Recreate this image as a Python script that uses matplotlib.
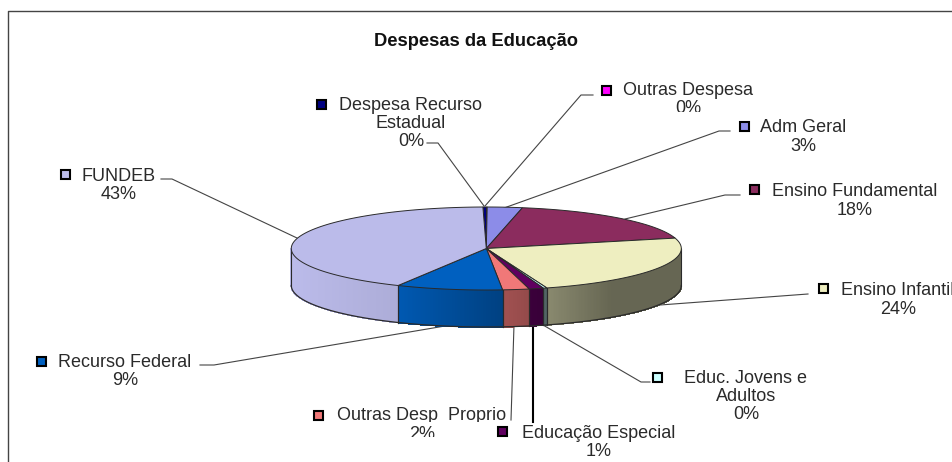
import matplotlib
matplotlib.use('Agg')
import matplotlib.pyplot as plt
from matplotlib.patches import Polygon, Rectangle
import numpy as np

plt.rcParams['font.family'] = ['Liberation Sans', 'DejaVu Sans']

# slices run clockwise from the top of the pie
names = ['Despesa Recurso\nEstadual', 'Outras Despesa', 'Adm Geral', 'Ensino Fundamental',
         'Ensino Infantil', 'Educ. Jovens e\nAdultos', 'Educação Especial',
         'Outras Desp  Proprio', 'Recurso Federal', 'FUNDEB']
shares = [0.3, 0.05, 2.9, 18.0, 24.0, 0.3, 1.2, 2.2, 8.8, 42.25]
pct_labels = ['0%', '0%', '3%', '18%', '24%', '0%', '1%', '2%', '9%', '43%']
colors = ['#000080', '#FF00FF', '#8C8CE8', '#8B2C5E', '#EEEEC0',
          '#CCFFFF', '#600060', '#F07878', '#0060C0', '#BBBBEA']

# pixel positions of the labels
label_x = [411, 688, 803, 855, 898, 746, 599, 422, 125, 119]
label_y = [123.5, 99.5, 137, 201, 300, 396.5, 442.5, 425, 371.5, 185.5]
key_x = [322, 607, 745, 755, 824, 658, 503, 319, 42, 66]
key_y = [104, 90, 126, 189, 288, 377, 431, 415, 361, 174]

leaders = [
    [(427, 143), (438, 143), (484, 206)],
    [(593, 95), (581, 95), (485, 206)],
    [(730, 131), (719, 131), (504, 208)],
    [(740, 195), (725, 195), (625, 219)],
    [(808, 294), (660, 305)],
    [(650, 382), (641, 382), (543, 325)],
    [(533, 422), (533, 325)],
    [(511, 420), (514, 325)],
    [(200, 365), (214, 365), (445, 326)],
    [(161, 179), (172, 179), (297, 238)],
]

# pie geometry
cx, cy = 486.3, 248.5
rx, ry = 195, 41.5
depth = 37
start_deg = -1.0

fig = plt.figure(figsize=(9.53, 4.62), dpi=100)
ax = fig.add_axes([0, 0, 1, 1])
ax.set_xlim(0, 953)
ax.set_ylim(462, 0)
ax.axis('off')

edge = '#2a2a2a'


def rim(t):
    t = np.radians(t)
    return cx + rx * np.sin(t), cy - ry * np.cos(t)


def shade(x):
    return np.interp(x, [291, 399, 440, 500, 545, 610, 681],
                     [1.0, 0.92, 0.82, 0.68, 0.58, 0.43, 0.43])


# outer frame
ax.plot([8.5, 8.5, 953], [462, 11, 11], color='#444444', lw=1.0, zorder=1)

for pts, col in zip(leaders, colors):
    xs, ys = zip(*pts)
    lw = 1.5 if col == '#600060' else 0.8
    lc = '#000000' if col == '#600060' else '#444444'
    ax.plot(xs, ys, color=lc, lw=lw, zorder=1)

edges = start_deg + np.cumsum([0] + shares) * 3.6

# side wall, front half only, in thin shaded strips
for a, b, col in zip(edges[:-1], edges[1:], colors):
    lo, hi = max(a, 90), min(b, 270)
    if hi <= lo:
        continue
    base = np.array(matplotlib.colors.to_rgb(col))
    if col == '#CCFFFF':
        base = np.array([0.55, 0.68, 0.68])
    steps = np.linspace(lo, hi, max(int(hi - lo) * 2, 2) + 1)
    for t0, t1 in zip(steps[:-1], steps[1:]):
        x0, y0 = rim(t0)
        x1, y1 = rim(t1)
        c = base * shade((x0 + x1) / 2)
        ax.add_patch(Polygon([(x0, y0), (x1, y1), (x1, y1 + depth), (x0, y0 + depth)],
                             facecolor=c, edgecolor=c, lw=0.6, antialiased=False, zorder=2))
    xa, ya = rim(lo)
    ax.plot([xa, xa], [ya, ya + depth], color=edge, lw=0.8, zorder=3)
    xb, yb = rim(hi)
    ax.plot([xb, xb], [yb, yb + depth], color=edge, lw=0.8, zorder=3)

# bottom rim of the wall
tt = np.linspace(90, 270, 200)
xb, yb = rim(tt)
ax.plot(xb, yb + depth, color=edge, lw=0.9, zorder=3)

# top face
for a, b, col in zip(edges[:-1], edges[1:], colors):
    tt = np.linspace(a, b, max(int(b - a) * 2, 2) + 1)
    xs, ys = rim(tt)
    pts = [(cx, cy)] + list(zip(xs, ys))
    ax.add_patch(Polygon(pts, closed=True, facecolor=col, edgecolor=edge, lw=0.7, zorder=4))

# title, labels and keys
ax.text(476, 42, 'Despesas da Educação', fontsize=13.2, fontweight='bold',
        color='#111111', ha='center', va='center', zorder=6)

for name, pct, lx, ly in zip(names, pct_labels, label_x, label_y):
    ax.text(lx, ly, f'{name}\n{pct}', fontsize=13, color='#2a2a2a', ha='center',
            va='center', multialignment='center', linespacing=1.08, zorder=5)

for kx, ky, col in zip(key_x, key_y, colors):
    ax.add_patch(Rectangle((kx - 4.5, ky - 4.5), 9, 9, facecolor=col, edgecolor='black',
                           lw=1.5, zorder=6))

# bits of the labels that are cut away in the source image
for x0, y0, w, h in [(660, 112, 60, 10), (336, 421.5, 170, 2), (395, 437, 55, 9)]:
    ax.add_patch(Rectangle((x0, y0), w, h, facecolor='white', edgecolor='none', zorder=5.5))

fig.savefig('out.png', dpi=100)
